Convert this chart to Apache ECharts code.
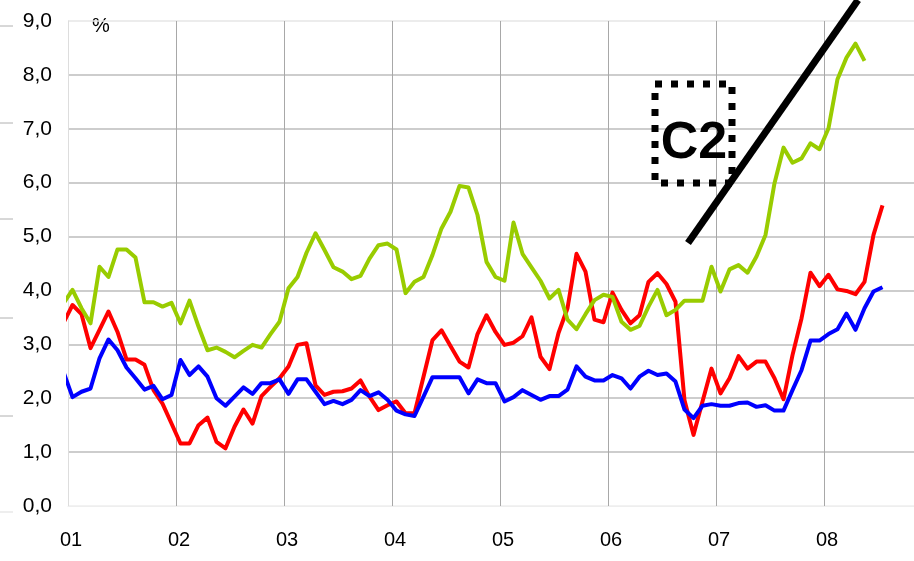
<!DOCTYPE html>
<html>
<head>
<meta charset="utf-8">
<title>C2</title>
<script src="https://cdn.jsdelivr.net/npm/echarts/dist/echarts.min.js"></script>
<style>html,body{margin:0;padding:0;background:#fff;}</style>
</head>
<body>
<div id="chart" style="width:914px;height:561px;"></div>
<script>
// monthly values, Dec 2000 ... Jul 2008 (index 0 = Dec 2000)
const green = [3.76, 4.01, 3.67, 3.39, 4.44, 4.25, 4.76, 4.76, 4.61, 3.78, 3.78, 3.70, 3.77, 3.39, 3.81,
  3.33, 2.89, 2.94, 2.86, 2.76, 2.88, 2.99, 2.94, 3.19, 3.42, 4.04, 4.25, 4.70, 5.06, 4.75,
  4.43, 4.35, 4.21, 4.27, 4.59, 4.84, 4.87, 4.76, 3.95, 4.16, 4.25, 4.66, 5.15, 5.46, 5.94,
  5.91, 5.40, 4.53, 4.25, 4.18, 5.26, 4.68, 4.43, 4.18, 3.85, 4.01, 3.46, 3.28, 3.56, 3.82,
  3.92, 3.88, 3.42, 3.27, 3.34, 3.70, 4.01, 3.54, 3.64, 3.81, 3.81, 3.81, 4.44, 3.98, 4.39,
  4.47, 4.33, 4.63, 5.03, 5.99, 6.65, 6.37, 6.45, 6.73, 6.62, 7.01, 7.92, 8.32, 8.58, 8.26];
const red = [3.40, 3.73, 3.56, 2.93, 3.27, 3.61, 3.23, 2.72, 2.72, 2.62, 2.15, 1.90, 1.53, 1.16, 1.16,
  1.50, 1.64, 1.19, 1.07, 1.47, 1.79, 1.53, 2.04, 2.21, 2.37, 2.59, 2.99, 3.02, 2.24, 2.06,
  2.12, 2.13, 2.18, 2.33, 2.03, 1.78, 1.87, 1.94, 1.72, 1.72, 2.40, 3.08, 3.26, 2.97, 2.68,
  2.57, 3.19, 3.54, 3.23, 2.99, 3.03, 3.15, 3.50, 2.77, 2.54, 3.21, 3.67, 4.68, 4.35, 3.46,
  3.41, 3.96, 3.64, 3.39, 3.54, 4.16, 4.32, 4.12, 3.79, 1.96, 1.32, 1.94, 2.55, 2.09, 2.37,
  2.78, 2.55, 2.68, 2.68, 2.37, 1.98, 2.80, 3.48, 4.33, 4.08, 4.29, 4.02, 3.99, 3.93, 4.16,
  5.03, 5.58];
const blue = [2.49, 2.02, 2.12, 2.18, 2.74, 3.09, 2.89, 2.57, 2.37, 2.16, 2.23, 1.98, 2.06, 2.71, 2.43,
  2.59, 2.40, 2.00, 1.86, 2.03, 2.20, 2.08, 2.28, 2.28, 2.35, 2.08, 2.35, 2.35, 2.12, 1.89,
  1.95, 1.89, 1.97, 2.15, 2.04, 2.11, 1.97, 1.77, 1.70, 1.67, 2.03, 2.39, 2.39, 2.39, 2.39,
  2.09, 2.35, 2.28, 2.28, 1.94, 2.02, 2.15, 2.06, 1.97, 2.04, 2.04, 2.16, 2.59, 2.40, 2.33,
  2.33, 2.43, 2.37, 2.18, 2.40, 2.51, 2.43, 2.46, 2.31, 1.79, 1.63, 1.86, 1.89, 1.86, 1.86,
  1.91, 1.92, 1.84, 1.87, 1.77, 1.77, 2.15, 2.52, 3.07, 3.07, 3.19, 3.28, 3.57, 3.27, 3.67,
  3.98, 4.06];
const yearLabels = ['01', '02', '03', '04', '05', '06', '07', '08'];

// x is months since 1 Jan 2001, points sit mid-month
function toPoints(arr) {
  return arr.map(function (v, k) { return [k - 0.5, v]; });
}

const font = 'Liberation Sans, Arial, sans-serif';
const chart = echarts.init(document.getElementById('chart'));

function lineSeries(name, arr, color) {
  return {
    name: name,
    type: 'line',
    data: toPoints(arr),
    showSymbol: false,
    clip: false,
    lineStyle: { color: color, width: 4, join: 'round' },
    itemStyle: { color: color }
  };
}

const option = {
  animation: false,
  backgroundColor: '#fff',
  grid: { left: 68, right: 0, top: 21, bottom: 55, containLabel: false },
  xAxis: {
    type: 'value',
    min: 0,
    max: 94,
    interval: 12,
    axisLine: { show: true, lineStyle: { color: '#eeeeee', width: 1 } },
    axisTick: { show: false },
    axisLabel: {
      color: '#000',
      fontSize: 20,
      fontFamily: font,
      margin: 24,
      padding: [0, 0, 0, 6],
      showMaxLabel: false,
      formatter: function (v) { return v % 12 === 0 ? (yearLabels[v / 12] || '') : ''; }
    },
    splitLine: {
      show: true,
      lineStyle: { color: ['#dddddd', '#a8a8a8', '#a8a8a8', '#a8a8a8', '#a8a8a8', '#a8a8a8', '#a8a8a8', '#a8a8a8', '#ffffff'], width: 1 }
    }
  },
  yAxis: {
    type: 'value',
    min: 0,
    max: 9,
    interval: 1,
    axisLine: { show: true, onZero: false, lineStyle: { color: '#dddddd', width: 1 } },
    axisTick: { show: false },
    axisLabel: {
      color: '#000',
      fontSize: 21,
      fontFamily: font,
      margin: 16,
      formatter: function (v) { return v.toFixed(1).replace('.', ','); }
    },
    splitLine: {
      show: true,
      lineStyle: { color: ['#eeeeee', '#bdbdbd', '#bdbdbd', '#bdbdbd', '#bdbdbd', '#bdbdbd', '#bdbdbd', '#bdbdbd', '#bdbdbd', '#e6e6e6'], width: 1.5 }
    }
  },
  series: [
    lineSeries('red', red, '#ff0000'),
    lineSeries('blue', blue, '#0000ff'),
    lineSeries('green', green, '#99cc00')
  ],
  graphic: [
    { type: 'text', left: 92, top: 16, style: { text: '%', fontSize: 20, fontFamily: font, fill: '#000' } },
    { type: 'rect', shape: { x: 655, y: 84, width: 77, height: 99 },
      style: { fill: 'none', stroke: '#000', lineWidth: 7, lineDash: [7, 9] }, z: 10 },
    { type: 'text', x: 694, y: 144,
      style: { text: 'C2', fontSize: 52, fontWeight: 'bold', fontFamily: font, fill: '#000', align: 'center', verticalAlign: 'middle' }, z: 10 },
    { type: 'line', shape: { x1: 688, y1: 243, x2: 858, y2: 0 }, style: { stroke: '#000', lineWidth: 7 }, z: 10 },
    // stray ticks at the far left edge
    { type: 'line', shape: { x1: 0, y1: 26, x2: 13, y2: 26 }, style: { stroke: '#b0b0b0', lineWidth: 1 } },
    { type: 'line', shape: { x1: 0, y1: 123, x2: 13, y2: 123 }, style: { stroke: '#b0b0b0', lineWidth: 1 } },
    { type: 'line', shape: { x1: 0, y1: 219, x2: 13, y2: 219 }, style: { stroke: '#b0b0b0', lineWidth: 1 } },
    { type: 'line', shape: { x1: 0, y1: 318, x2: 13, y2: 318 }, style: { stroke: '#b0b0b0', lineWidth: 1 } },
    { type: 'line', shape: { x1: 0, y1: 416, x2: 13, y2: 416 }, style: { stroke: '#b0b0b0', lineWidth: 1 } },
    { type: 'line', shape: { x1: 0, y1: 512, x2: 13, y2: 512 }, style: { stroke: '#dddddd', lineWidth: 1 } }
  ]
};

chart.setOption(option);
</script>
</body>
</html>
